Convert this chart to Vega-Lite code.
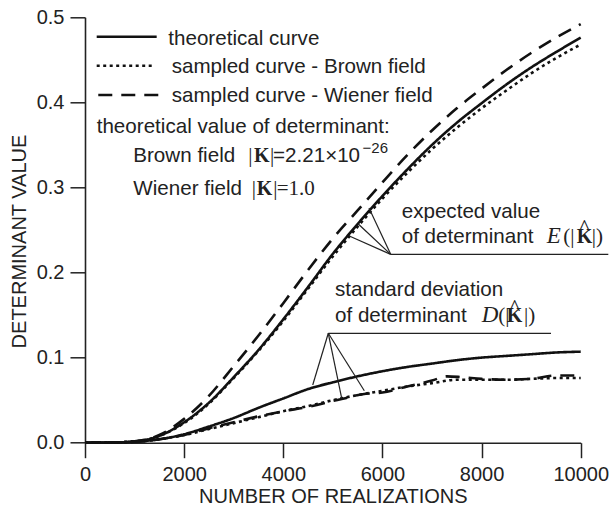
{
  "$schema": "https://vega.github.io/schema/vega-lite/v6.json",
  "width": 495.7,
  "height": 425.4,
  "autosize": {"type": "none"},
  "padding": {"left": 85, "top": 17.3, "right": 30.3, "bottom": 64.3},
  "background": "white",
  "config": {
    "view": {"stroke": null},
    "axis": {
      "grid": false,
      "domainColor": "#222",
      "domainWidth": 1.6,
      "tickColor": "#222",
      "tickWidth": 1.5,
      "labelFont": "Liberation Sans",
      "labelFontSize": 20,
      "labelColor": "#222",
      "labelFlush": false,
      "labelOverlap": false,
      "titleFont": "Liberation Sans",
      "titleFontSize": 20,
      "titleFontWeight": "normal",
      "titleColor": "#222"
    }
  },
  "datasets": {
    "curves": [
      {"x": 0, "y": 0, "curve": "theoretical", "stat": "E"},
      {"x": 500, "y": 0.0002, "curve": "theoretical", "stat": "E"},
      {"x": 1000, "y": 0.0015, "curve": "theoretical", "stat": "E"},
      {"x": 1500, "y": 0.008, "curve": "theoretical", "stat": "E"},
      {"x": 2000, "y": 0.024, "curve": "theoretical", "stat": "E"},
      {"x": 2500, "y": 0.047, "curve": "theoretical", "stat": "E"},
      {"x": 3000, "y": 0.077, "curve": "theoretical", "stat": "E"},
      {"x": 3500, "y": 0.109, "curve": "theoretical", "stat": "E"},
      {"x": 4000, "y": 0.145, "curve": "theoretical", "stat": "E"},
      {"x": 4500, "y": 0.183, "curve": "theoretical", "stat": "E"},
      {"x": 5000, "y": 0.222, "curve": "theoretical", "stat": "E"},
      {"x": 5500, "y": 0.257, "curve": "theoretical", "stat": "E"},
      {"x": 6000, "y": 0.290, "curve": "theoretical", "stat": "E"},
      {"x": 6500, "y": 0.321, "curve": "theoretical", "stat": "E"},
      {"x": 7000, "y": 0.350, "curve": "theoretical", "stat": "E"},
      {"x": 7500, "y": 0.376, "curve": "theoretical", "stat": "E"},
      {"x": 8000, "y": 0.399, "curve": "theoretical", "stat": "E"},
      {"x": 8500, "y": 0.421, "curve": "theoretical", "stat": "E"},
      {"x": 9000, "y": 0.441, "curve": "theoretical", "stat": "E"},
      {"x": 9500, "y": 0.459, "curve": "theoretical", "stat": "E"},
      {"x": 10000, "y": 0.476, "curve": "theoretical", "stat": "E"},

      {"x": 0, "y": 0, "curve": "Brown", "stat": "E"},
      {"x": 500, "y": 0.0002, "curve": "Brown", "stat": "E"},
      {"x": 1000, "y": 0.0015, "curve": "Brown", "stat": "E"},
      {"x": 1500, "y": 0.008, "curve": "Brown", "stat": "E"},
      {"x": 2000, "y": 0.023, "curve": "Brown", "stat": "E"},
      {"x": 2500, "y": 0.046, "curve": "Brown", "stat": "E"},
      {"x": 3000, "y": 0.076, "curve": "Brown", "stat": "E"},
      {"x": 3500, "y": 0.108, "curve": "Brown", "stat": "E"},
      {"x": 4000, "y": 0.143, "curve": "Brown", "stat": "E"},
      {"x": 4500, "y": 0.181, "curve": "Brown", "stat": "E"},
      {"x": 5000, "y": 0.219, "curve": "Brown", "stat": "E"},
      {"x": 5500, "y": 0.254, "curve": "Brown", "stat": "E"},
      {"x": 6000, "y": 0.287, "curve": "Brown", "stat": "E"},
      {"x": 6500, "y": 0.317, "curve": "Brown", "stat": "E"},
      {"x": 7000, "y": 0.345, "curve": "Brown", "stat": "E"},
      {"x": 7500, "y": 0.370, "curve": "Brown", "stat": "E"},
      {"x": 8000, "y": 0.393, "curve": "Brown", "stat": "E"},
      {"x": 8500, "y": 0.414, "curve": "Brown", "stat": "E"},
      {"x": 9000, "y": 0.434, "curve": "Brown", "stat": "E"},
      {"x": 9500, "y": 0.452, "curve": "Brown", "stat": "E"},
      {"x": 10000, "y": 0.468, "curve": "Brown", "stat": "E"},

      {"x": 0, "y": 0, "curve": "Wiener", "stat": "E"},
      {"x": 500, "y": 0.0002, "curve": "Wiener", "stat": "E"},
      {"x": 1000, "y": 0.0017, "curve": "Wiener", "stat": "E"},
      {"x": 1500, "y": 0.009, "curve": "Wiener", "stat": "E"},
      {"x": 2000, "y": 0.028, "curve": "Wiener", "stat": "E"},
      {"x": 2500, "y": 0.055, "curve": "Wiener", "stat": "E"},
      {"x": 3000, "y": 0.090, "curve": "Wiener", "stat": "E"},
      {"x": 3500, "y": 0.126, "curve": "Wiener", "stat": "E"},
      {"x": 4000, "y": 0.164, "curve": "Wiener", "stat": "E"},
      {"x": 4500, "y": 0.203, "curve": "Wiener", "stat": "E"},
      {"x": 5000, "y": 0.240, "curve": "Wiener", "stat": "E"},
      {"x": 5500, "y": 0.273, "curve": "Wiener", "stat": "E"},
      {"x": 6000, "y": 0.306, "curve": "Wiener", "stat": "E"},
      {"x": 6500, "y": 0.338, "curve": "Wiener", "stat": "E"},
      {"x": 7000, "y": 0.367, "curve": "Wiener", "stat": "E"},
      {"x": 7500, "y": 0.393, "curve": "Wiener", "stat": "E"},
      {"x": 8000, "y": 0.416, "curve": "Wiener", "stat": "E"},
      {"x": 8500, "y": 0.438, "curve": "Wiener", "stat": "E"},
      {"x": 9000, "y": 0.458, "curve": "Wiener", "stat": "E"},
      {"x": 9500, "y": 0.476, "curve": "Wiener", "stat": "E"},
      {"x": 10000, "y": 0.492, "curve": "Wiener", "stat": "E"},

      {"x": 0, "y": 0, "curve": "theoretical", "stat": "D"},
      {"x": 500, "y": 0.0002, "curve": "theoretical", "stat": "D"},
      {"x": 1000, "y": 0.0012, "curve": "theoretical", "stat": "D"},
      {"x": 1500, "y": 0.004, "curve": "theoretical", "stat": "D"},
      {"x": 2000, "y": 0.010, "curve": "theoretical", "stat": "D"},
      {"x": 2500, "y": 0.019, "curve": "theoretical", "stat": "D"},
      {"x": 3000, "y": 0.029, "curve": "theoretical", "stat": "D"},
      {"x": 3500, "y": 0.041, "curve": "theoretical", "stat": "D"},
      {"x": 4000, "y": 0.052, "curve": "theoretical", "stat": "D"},
      {"x": 4500, "y": 0.063, "curve": "theoretical", "stat": "D"},
      {"x": 5000, "y": 0.071, "curve": "theoretical", "stat": "D"},
      {"x": 5500, "y": 0.078, "curve": "theoretical", "stat": "D"},
      {"x": 6000, "y": 0.084, "curve": "theoretical", "stat": "D"},
      {"x": 6500, "y": 0.089, "curve": "theoretical", "stat": "D"},
      {"x": 7000, "y": 0.093, "curve": "theoretical", "stat": "D"},
      {"x": 7500, "y": 0.097, "curve": "theoretical", "stat": "D"},
      {"x": 8000, "y": 0.100, "curve": "theoretical", "stat": "D"},
      {"x": 8500, "y": 0.102, "curve": "theoretical", "stat": "D"},
      {"x": 9000, "y": 0.104, "curve": "theoretical", "stat": "D"},
      {"x": 9500, "y": 0.106, "curve": "theoretical", "stat": "D"},
      {"x": 10000, "y": 0.107, "curve": "theoretical", "stat": "D"},

      {"x": 0, "y": 0, "curve": "Brown", "stat": "D"},
      {"x": 1000, "y": 0.001, "curve": "Brown", "stat": "D"},
      {"x": 1500, "y": 0.004, "curve": "Brown", "stat": "D"},
      {"x": 2000, "y": 0.009, "curve": "Brown", "stat": "D"},
      {"x": 2500, "y": 0.016, "curve": "Brown", "stat": "D"},
      {"x": 3000, "y": 0.023, "curve": "Brown", "stat": "D"},
      {"x": 3500, "y": 0.030, "curve": "Brown", "stat": "D"},
      {"x": 4000, "y": 0.037, "curve": "Brown", "stat": "D"},
      {"x": 4500, "y": 0.043, "curve": "Brown", "stat": "D"},
      {"x": 5000, "y": 0.050, "curve": "Brown", "stat": "D"},
      {"x": 5500, "y": 0.056, "curve": "Brown", "stat": "D"},
      {"x": 6000, "y": 0.061, "curve": "Brown", "stat": "D"},
      {"x": 6500, "y": 0.066, "curve": "Brown", "stat": "D"},
      {"x": 7000, "y": 0.070, "curve": "Brown", "stat": "D"},
      {"x": 7500, "y": 0.074, "curve": "Brown", "stat": "D"},
      {"x": 8000, "y": 0.074, "curve": "Brown", "stat": "D"},
      {"x": 8500, "y": 0.074, "curve": "Brown", "stat": "D"},
      {"x": 9000, "y": 0.075, "curve": "Brown", "stat": "D"},
      {"x": 9500, "y": 0.076, "curve": "Brown", "stat": "D"},
      {"x": 10000, "y": 0.076, "curve": "Brown", "stat": "D"},

      {"x": 0, "y": 0, "curve": "Wiener", "stat": "D"},
      {"x": 1000, "y": 0.001, "curve": "Wiener", "stat": "D"},
      {"x": 1500, "y": 0.004, "curve": "Wiener", "stat": "D"},
      {"x": 2000, "y": 0.009, "curve": "Wiener", "stat": "D"},
      {"x": 2500, "y": 0.017, "curve": "Wiener", "stat": "D"},
      {"x": 3000, "y": 0.024, "curve": "Wiener", "stat": "D"},
      {"x": 3500, "y": 0.031, "curve": "Wiener", "stat": "D"},
      {"x": 4000, "y": 0.037, "curve": "Wiener", "stat": "D"},
      {"x": 4500, "y": 0.042, "curve": "Wiener", "stat": "D"},
      {"x": 4800, "y": 0.046, "curve": "Wiener", "stat": "D"},
      {"x": 5000, "y": 0.049, "curve": "Wiener", "stat": "D"},
      {"x": 5300, "y": 0.053, "curve": "Wiener", "stat": "D"},
      {"x": 5600, "y": 0.057, "curve": "Wiener", "stat": "D"},
      {"x": 6000, "y": 0.059, "curve": "Wiener", "stat": "D"},
      {"x": 6500, "y": 0.066, "curve": "Wiener", "stat": "D"},
      {"x": 7000, "y": 0.073, "curve": "Wiener", "stat": "D"},
      {"x": 7300, "y": 0.078, "curve": "Wiener", "stat": "D"},
      {"x": 7600, "y": 0.077, "curve": "Wiener", "stat": "D"},
      {"x": 8000, "y": 0.075, "curve": "Wiener", "stat": "D"},
      {"x": 8500, "y": 0.074, "curve": "Wiener", "stat": "D"},
      {"x": 9000, "y": 0.075, "curve": "Wiener", "stat": "D"},
      {"x": 9500, "y": 0.079, "curve": "Wiener", "stat": "D"},
      {"x": 10000, "y": 0.079, "curve": "Wiener", "stat": "D"}
    ],
    "xMajor": [{"x": 0}, {"x": 2000}, {"x": 4000}, {"x": 6000}, {"x": 8000}, {"x": 10000}],
    "xMinor": [{"x": 500}, {"x": 1000}, {"x": 1500}, {"x": 2500}, {"x": 3000}, {"x": 3500}, {"x": 4500}, {"x": 5000}, {"x": 5500}, {"x": 6500}, {"x": 7000}, {"x": 7500}, {"x": 8500}, {"x": 9000}, {"x": 9500}],
    "yMajor": [{"y": 0}, {"y": 0.1}, {"y": 0.2}, {"y": 0.3}, {"y": 0.4}, {"y": 0.5}],
    "yMinor": [{"y": 0.02}, {"y": 0.04}, {"y": 0.06}, {"y": 0.08}, {"y": 0.12}, {"y": 0.14}, {"y": 0.16}, {"y": 0.18}, {"y": 0.22}, {"y": 0.24}, {"y": 0.26}, {"y": 0.28}, {"y": 0.32}, {"y": 0.34}, {"y": 0.36}, {"y": 0.38}, {"y": 0.42}, {"y": 0.44}, {"y": 0.46}, {"y": 0.48}],
    "legend": [
      {"x": 236, "x2": 1446, "y": 0.4771, "curve": "theoretical"},
      {"x": 236, "x2": 1378, "y": 0.443, "curve": "Brown"},
      {"x": 268, "x2": 1547, "y": 0.4086, "curve": "Wiener"}
    ],
    "leaders": [
      {"x": 6167, "y": 0.2214, "x2": 10557, "y2": 0.2214},
      {"x": 6167, "y": 0.2214, "x2": 5332, "y2": 0.2429},
      {"x": 6167, "y": 0.2214, "x2": 5513, "y2": 0.257},
      {"x": 6167, "y": 0.2214, "x2": 5729, "y2": 0.2758},
      {"x": 4908, "y": 0.1286, "x2": 9401, "y2": 0.1286},
      {"x": 4908, "y": 0.1286, "x2": 4594, "y2": 0.0678},
      {"x": 4908, "y": 0.1286, "x2": 5179, "y2": 0.0522},
      {"x": 4908, "y": 0.1286, "x2": 5635, "y2": 0.0611}
    ],
    "sans": [
      {"x": 1680, "y": 0.4673, "t": "theoretical curve"},
      {"x": 1749, "y": 0.4348, "t": "sampled curve - Brown field"},
      {"x": 1749, "y": 0.4007, "t": "sampled curve - Wiener field"},
      {"x": 236, "y": 0.3636, "t": "theoretical value of determinant:"},
      {"x": 974, "y": 0.3302, "t": "Brown field"},
      {"x": 3793, "y": 0.3302, "t": "=2.21×10"},
      {"x": 974, "y": 0.2911, "t": "Wiener field"},
      {"x": 6389, "y": 0.2644, "t": "expected value"},
      {"x": 6389, "y": 0.2350, "t": "of determinant"},
      {"x": 5043, "y": 0.1727, "t": "standard deviation"},
      {"x": 5043, "y": 0.1418, "t": "of determinant"}
    ],
    "sup": [
      {"x": 5600, "y": 0.3408, "t": "−26"}
    ],
    "serif": [
      {"x": 3294, "y": 0.3302, "t": "|"},
      {"x": 3732, "y": 0.3302, "t": "|"},
      {"x": 3363, "y": 0.2911, "t": "|"},
      {"x": 3799, "y": 0.2911, "t": "|"},
      {"x": 3867, "y": 0.2911, "t": "=1.0"},
      {"x": 9649, "y": 0.2350, "t": "(|"},
      {"x": 10222, "y": 0.2350, "t": "|)"},
      {"x": 8338, "y": 0.1418, "t": "(|"},
      {"x": 8856, "y": 0.1418, "t": "|)"}
    ],
    "serifbold": [
      {"x": 3409, "y": 0.3302, "t": "K"},
      {"x": 3464, "y": 0.2911, "t": "K"},
      {"x": 9919, "y": 0.2350, "t": "K"},
      {"x": 8507, "y": 0.1418, "t": "K"}
    ],
    "hats": [
      {"x": 10075, "y": 0.2438, "t": "^"},
      {"x": 8665, "y": 0.1506, "t": "^"}
    ],
    "serifitalic": [
      {"x": 9314, "y": 0.2350, "t": "E"},
      {"x": 8003, "y": 0.1418, "t": "D"}
    ]
  },
  "encoding": {
    "x": {
      "field": "x", "type": "quantitative",
      "scale": {"domain": [0, 10000], "nice": false},
      "axis": {
        "values": [0, 2000, 4000, 6000, 8000, 10000],
        "format": "d",
        "tickSize": 15,
        "labelPadding": 7,
        "title": "NUMBER OF REALIZATIONS",
        "titlePadding": 2
      }
    },
    "y": {
      "field": "y", "type": "quantitative",
      "scale": {"domain": [0, 0.5], "nice": false},
      "axis": {
        "values": [0, 0.1, 0.2, 0.3, 0.4, 0.5],
        "format": ".1f",
        "tickSize": 15,
        "labelPadding": 6,
        "title": "DETERMINANT VALUE",
        "titlePadding": 7,
        "titleY": 223.7
      }
    }
  },
  "layer": [
    {
      "data": {"name": "curves"},
      "mark": {"type": "line", "interpolate": "monotone", "strokeWidth": 2.6, "color": "#111", "clip": false},
      "encoding": {
        "strokeDash": {
          "field": "curve", "type": "nominal",
          "scale": {"domain": ["theoretical", "Brown", "Wiener"], "range": [[1, 0], [3, 3.5], [14, 9]]},
          "legend": null
        },
        "detail": {"field": "stat", "type": "nominal"}
      }
    },
    {
      "data": {"name": "xMajor"},
      "mark": {"type": "rule", "strokeWidth": 1.5, "color": "#222", "clip": false},
      "encoding": {
        "y": {"datum": 0, "type": "quantitative"},
        "y2": {"datum": -0.0176}
      }
    },
    {
      "data": {"name": "xMinor"},
      "mark": {"type": "rule", "strokeWidth": 1.5, "color": "#222", "clip": false},
      "encoding": {
        "y": {"datum": 0, "type": "quantitative"},
        "y2": {"datum": -0.0118}
      }
    },
    {
      "data": {"name": "yMajor"},
      "mark": {"type": "rule", "strokeWidth": 1.5, "color": "#222", "clip": false},
      "encoding": {
        "x": {"datum": 0, "type": "quantitative"},
        "x2": {"datum": -303}
      }
    },
    {
      "data": {"name": "yMinor"},
      "mark": {"type": "rule", "strokeWidth": 1.5, "color": "#222", "clip": false},
      "encoding": {
        "x": {"datum": 0, "type": "quantitative"},
        "x2": {"datum": -202}
      }
    },
    {
      "data": {"name": "legend"},
      "mark": {"type": "rule", "strokeWidth": 2.6, "color": "#111", "clip": false},
      "encoding": {
        "x2": {"field": "x2"},
        "strokeDash": {
          "field": "curve", "type": "nominal",
          "scale": {"domain": ["theoretical", "Brown", "Wiener"], "range": [[1, 0], [3, 3.5], [14, 9]]},
          "legend": null
        }
      }
    },
    {
      "data": {"name": "leaders"},
      "mark": {"type": "rule", "strokeWidth": 1.2, "color": "#222", "clip": false},
      "encoding": {
        "x2": {"field": "x2"},
        "y2": {"field": "y2"}
      }
    },
    {
      "data": {"name": "sans"},
      "mark": {"type": "text", "align": "left", "baseline": "alphabetic", "font": "Liberation Sans", "fontSize": 20.6, "color": "#222", "clip": false},
      "encoding": {"text": {"field": "t"}}
    },
    {
      "data": {"name": "sup"},
      "mark": {"type": "text", "align": "left", "baseline": "alphabetic", "font": "Liberation Sans", "fontSize": 15, "color": "#222", "clip": false},
      "encoding": {"text": {"field": "t"}}
    },
    {
      "data": {"name": "serif"},
      "mark": {"type": "text", "align": "left", "baseline": "alphabetic", "font": "Liberation Serif", "fontSize": 21, "color": "#222", "clip": false},
      "encoding": {"text": {"field": "t"}}
    },
    {
      "data": {"name": "serifbold"},
      "mark": {"type": "text", "align": "left", "baseline": "alphabetic", "font": "Liberation Serif", "fontWeight": "bold", "fontSize": 20, "color": "#222", "clip": false},
      "encoding": {"text": {"field": "t"}}
    },
    {
      "data": {"name": "hats"},
      "mark": {"type": "text", "align": "center", "baseline": "alphabetic", "font": "Liberation Serif", "fontSize": 24, "color": "#222", "clip": false},
      "encoding": {"text": {"field": "t"}}
    },
    {
      "data": {"name": "serifitalic"},
      "mark": {"type": "text", "align": "left", "baseline": "alphabetic", "font": "Liberation Serif", "fontStyle": "italic", "fontSize": 23, "color": "#222", "clip": false},
      "encoding": {"text": {"field": "t"}}
    }
  ]
}
